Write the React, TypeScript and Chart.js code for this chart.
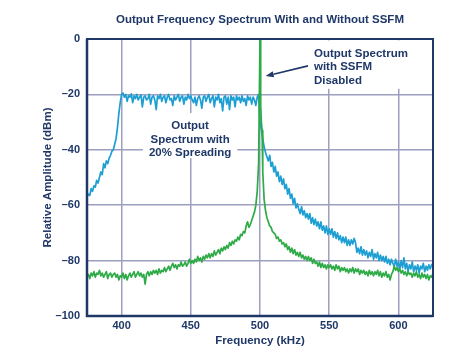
import React, { useEffect, useRef } from "react";
import { Chart, registerables } from "chart.js";

Chart.register(...registerables);

// ---------- data ----------
const X_TICKS = [400, 450, 500, 550, 600];
const Y_TICKS = [0, -20, -40, -60, -80, -100];
const X_MIN = 375;
const X_MAX = 625;
const FREQ_START = 375; // kHz, first sample
const FREQ_STEP = 1; // kHz between samples

// Output spectrum with 20% spreading (blue), 375..625 kHz
const SPREAD_DBM = [
  -57, -56, -56.5, -54, -55, -53, -53.5, -51, -52, -50,
  -48, -49, -45, -46.5, -44, -45, -43, -42, -40.5, -40,
  -38, -36, -32, -27, -23, -20, -19.5, -21, -20, -22.5,
  -20.5, -21, -19.8, -23, -20.5, -21.5, -20, -22, -21, -20.2,
  -24.5, -21, -20.5, -22, -21.5, -20, -23.5, -21, -20.5, -22,
  -25.5, -20.5, -21.5, -20, -22.5, -21, -20.5, -23, -21, -20,
  -22, -21.5, -24, -20.5, -22, -21, -20, -22.5, -21, -20.5,
  -23.5, -21, -22, -20, -21.5, -20.5, -22, -23, -21, -24,
  -21.5, -20.5, -22, -25, -21, -20.5, -22.5, -21, -20, -23,
  -21.5, -20.5, -24.5, -21, -22, -20, -23, -21.5, -26, -21,
  -20.5, -23.5, -21, -25.5, -20.5, -22, -21, -24.5, -20.5, -22,
  -21, -23, -20.5, -22.5, -21.5, -24, -20.5, -22, -21, -23.5,
  -21, -22, -24, -21, -20, -30, -33, -36, -39, -41,
  -42.5, -44, -42, -46, -44.5, -48, -46, -49.5, -48, -51.5,
  -49.5, -52.5, -50.5, -54, -52.5, -56, -54, -57.5, -56, -59.5,
  -57.5, -61, -59.5, -61.5, -63, -60.5, -63.5, -62, -64.5, -63,
  -65, -63, -66.5, -64.5, -67, -65, -67.5, -66, -68.5, -66,
  -69, -67.5, -70, -67.5, -70.5, -68.5, -70.5, -68.5, -71.5, -69.5,
  -72, -70, -72.5, -71, -73.5, -71.5, -73.5, -71.5, -74.5, -72.5,
  -74.5, -72.5, -74, -72, -73.5, -77, -75.5, -77.5, -75, -78,
  -76, -78, -76.5, -79, -77, -78.5, -76, -79.5, -77.5, -79,
  -77, -80, -78, -80, -78.5, -80.5, -78.5, -81, -79.5, -81.5,
  -79.5, -81, -82, -79.5, -82, -80.5, -83, -80, -82.5, -79,
  -83, -81, -84, -81.5, -83, -80.5, -84, -82, -83.5, -81.5,
  -84.5, -82, -83, -81, -84, -82, -83.5, -81.5, -83, -81.5,
  -81,
];

// Output spectrum with SSFM disabled (green), 375..625 kHz
const DISABLED_DBM = [
  -86, -85, -86.5, -84.5, -85.5, -84, -86, -84.5, -85, -83.5,
  -85.5, -84.5, -86, -85, -84, -86.5, -85, -84.5, -86, -85,
  -84.5, -86, -85, -87, -85.5, -86, -84.5, -86.5, -85, -87,
  -85.5, -84.5, -86, -85, -84, -86, -85, -84, -85.5, -84.5,
  -86, -85, -88.5, -85, -84, -85.5, -84, -85, -83.5, -84.5,
  -83.5, -85, -83, -84.5, -83.5, -84, -82.5, -84, -83, -82,
  -83.5, -82, -81, -82.5, -81.5, -83, -81.5, -82, -80.5, -82,
  -81.5, -80.5, -82, -81, -79.5, -81, -80, -81, -79.5, -80.5,
  -78.5, -80, -79, -80.5, -78.5, -79.5, -78, -79, -77.5, -79,
  -77.5, -78.5, -76.5, -78, -77, -76, -77.5, -75.5, -76.5, -75,
  -76, -74.5, -75.5, -73.5, -74.5, -73, -74, -72.5, -73, -71.5,
  -72.5, -70.5, -71, -69.5, -70, -67.5, -66, -68, -67, -65.5,
  -64, -62.5, -60, -55, -45, 0, -30, -48, -58, -62,
  -64.5, -66, -67.5, -68, -69.5, -70, -70.5, -72, -71.5, -73,
  -72.5, -74, -73.5, -75, -74, -76, -75, -77, -75.5, -77.5,
  -76, -78, -77, -78.5, -77, -79, -78, -79.5, -78.5, -80,
  -78.5, -80, -79, -81, -79.5, -81, -80.5, -82, -80.5, -82.5,
  -81, -82.5, -81.5, -83, -81.5, -82.5, -81.5, -83, -82, -83.5,
  -81.5, -83, -82, -84, -82.5, -83.5, -82.5, -84, -83, -84.5,
  -83, -84, -82.5, -84.5, -83, -84, -83, -85, -83.5, -84.5,
  -83.5, -85, -84, -85.5, -83.5, -85, -84, -85.5, -84, -85,
  -83.5, -85.5, -84, -86, -84.5, -85.5, -84, -86, -85, -87,
  -85, -84, -82, -83.5, -82.5, -84, -83, -84.5, -83.5, -85,
  -84, -85.5, -84, -85, -84.5, -86, -84.5, -85.5, -84, -86,
  -85, -86.5, -84.5, -86, -85, -86.5, -85, -87, -85.5, -86,
  -84.5,
];

// extra fine samples around the carrier (green)
const PEAK_FREQ = [499.5, 500.5, 501.5];
const PEAK_DBM = [-22, -24, -33];

// ---------- text ----------
const TITLE = "Output Frequency Spectrum With and Without SSFM";
const X_TITLE = "Frequency (kHz)";
const Y_TITLE = "Relative Amplitude (dBm)";
const NOTE_DISABLED = ["Output Spectrum", "with SSFM", "Disabled"];
const NOTE_SPREAD = ["Output", "Spectrum with", "20% Spreading"];

// ---------- style ----------
const NAVY = "#1f3868";
const GRID = "#9c9fbf";
const BLUE = "#1d9fd3";
const GREEN = "#2eab47";
const FONT = '"Liberation Sans", Arial, Helvetica, sans-serif';

function toPoints(vals: number[]) {
  return vals.map((v, i) => ({ x: FREQ_START + i * FREQ_STEP, y: v }));
}

const overlay = {
  id: "overlay",
  beforeDatasetsDraw(chart: any) {
    const ctx = chart.ctx;
    const xs = chart.scales.x;
    const ys = chart.scales.y;
    ctx.save();
    ctx.font = `bold 11.5px ${FONT}`;
    ctx.fillStyle = "#ffffff";
    {
      const x = xs.getPixelForValue(539);
      const y0 = ys.getPixelForValue(-5.2);
      const yL = y0 + 13.7 * (NOTE_DISABLED.length - 1);
      const w = Math.max(...NOTE_DISABLED.map((t) => ctx.measureText(t).width));
      ctx.fillRect(x - 6, y0 - 13, w + 12, yL + 8 - (y0 - 13));
    }
    {
      const cx = xs.getPixelForValue(449.5);
      const y0 = ys.getPixelForValue(-31.4);
      const yL = y0 + 13.6 * (NOTE_SPREAD.length - 1);
      const w = Math.max(...NOTE_SPREAD.map((t) => ctx.measureText(t).width));
      ctx.fillRect(cx - w / 2 - 6, y0 - 13, w + 12, yL + 5 - (y0 - 13));
    }
    ctx.restore();
  },
  afterDatasetsDraw(chart: any) {
    const ctx = chart.ctx;
    const xs = chart.scales.x;
    const ys = chart.scales.y;
    const a = chart.chartArea;
    ctx.save();
    ctx.strokeStyle = NAVY;
    ctx.lineWidth = 2;
    ctx.strokeRect(a.left, a.top, a.right - a.left, a.bottom - a.top);
    ctx.lineWidth = 2.5;
    ctx.beginPath();
    ctx.moveTo(a.left, a.top);
    ctx.lineTo(a.left, a.bottom);
    ctx.lineTo(a.right, a.bottom);
    ctx.stroke();

    ctx.fillStyle = NAVY;
    ctx.font = `bold 11.5px ${FONT}`;
    ctx.textBaseline = "middle";
    ctx.textAlign = "left";
    {
      const x = xs.getPixelForValue(539);
      const y0 = ys.getPixelForValue(-5.2);
      NOTE_DISABLED.forEach((t, i) => ctx.fillText(t, x, y0 + i * 13.7));
    }
    ctx.textAlign = "center";
    {
      const cx = xs.getPixelForValue(449.5);
      const y0 = ys.getPixelForValue(-31.4);
      NOTE_SPREAD.forEach((t, i) => ctx.fillText(t, cx, y0 + i * 13.6));
    }
    {
      const tx = xs.getPixelForValue(534.7);
      const ty = ys.getPixelForValue(-9.7);
      const hx = xs.getPixelForValue(504.1);
      const hy = ys.getPixelForValue(-13.4);
      const ang = Math.atan2(hy - ty, hx - tx);
      const len = 8;
      const bx = hx - len * Math.cos(ang);
      const by = hy - len * Math.sin(ang);
      ctx.strokeStyle = NAVY;
      ctx.lineWidth = 1.6;
      ctx.beginPath();
      ctx.moveTo(tx, ty);
      ctx.lineTo(bx, by);
      ctx.stroke();
      ctx.beginPath();
      ctx.moveTo(hx, hy);
      ctx.lineTo(bx + 3 * Math.sin(ang), by - 3 * Math.cos(ang));
      ctx.lineTo(bx - 3 * Math.sin(ang), by + 3 * Math.cos(ang));
      ctx.closePath();
      ctx.fill();
    }
    ctx.restore();
  },
  afterDraw(chart: any) {
    const ctx = chart.ctx;
    const a = chart.chartArea;
    ctx.save();
    ctx.fillStyle = NAVY;
    ctx.font = `bold 11.5px ${FONT}`;
    ctx.textAlign = "center";
    ctx.textBaseline = "middle";
    ctx.fillText(TITLE, (a.left + a.right) / 2, 20);
    ctx.restore();
  },
};

export default function App() {
  const ref = useRef<HTMLCanvasElement | null>(null);

  useEffect(() => {
    if (!ref.current) return;
    const greenPts = toPoints(DISABLED_DBM)
      .concat(PEAK_FREQ.map((f, i) => ({ x: f, y: PEAK_DBM[i] })))
      .sort((p, q) => p.x - q.x);
    const bluePts = toPoints(SPREAD_DBM);

    const tickFont = { family: FONT, size: 11, weight: "bold" as const };
    const titleFont = { family: FONT, size: 11.5, weight: "bold" as const };

    const chart = new Chart(ref.current, {
      type: "line",
      data: {
        datasets: [
          {
            label: "SSFM Disabled",
            data: greenPts,
            borderColor: GREEN,
            borderWidth: 1.7,
            pointRadius: 0,
            borderJoinStyle: "round",
            tension: 0,
          },
          {
            label: "20% Spreading",
            data: bluePts,
            borderColor: BLUE,
            borderWidth: 1.7,
            pointRadius: 0,
            borderJoinStyle: "round",
            tension: 0,
          },
        ],
      },
      options: {
        animation: false,
        responsive: false,
        devicePixelRatio: 1,
        layout: { padding: { top: 39, right: 35, left: 0, bottom: 0 } },
        plugins: {
          legend: { display: false },
          tooltip: { enabled: false },
          title: { display: false },
        },
        scales: {
          x: {
            type: "linear",
            min: X_MIN,
            max: X_MAX,
            afterBuildTicks: (s: any) => {
              s.ticks = X_TICKS.map((value) => ({ value }));
            },
            afterFit: (s: any) => {
              s.height = 40;
            },
            grid: { color: GRID, lineWidth: 1.5, drawTicks: false },
            border: { display: false },
            ticks: {
              padding: 3,
              color: NAVY,
              font: tickFont,
              maxRotation: 0,
              callback: (v: any) => String(v),
            },
            title: {
              display: true,
              text: X_TITLE,
              color: NAVY,
              font: titleFont,
              padding: { top: 0, bottom: 8.5 },
            },
          },
          y: {
            type: "linear",
            min: -100,
            max: 0,
            afterBuildTicks: (s: any) => {
              s.ticks = Y_TICKS.map((value) => ({ value }));
            },
            afterFit: (s: any) => {
              s.width = 87;
            },
            grid: { color: GRID, lineWidth: 1.5, drawTicks: false },
            border: { display: false },
            ticks: {
              padding: 7,
              color: NAVY,
              font: tickFont,
              callback: (v: any) => (v < 0 ? "\u2013" + Math.abs(v) : String(v)),
            },
            title: {
              display: true,
              text: Y_TITLE,
              color: NAVY,
              font: titleFont,
              padding: { top: 40.5, bottom: 0 },
            },
          },
        },
      },
      plugins: [overlay],
    } as any);

    return () => chart.destroy();
  }, []);

  return (
    <div style={{ position: "absolute", left: 0, top: 0, width: 468, height: 356, background: "#ffffff" }}>
      <canvas ref={ref} width={468} height={356} style={{ display: "block" }} />
    </div>
  );
}
